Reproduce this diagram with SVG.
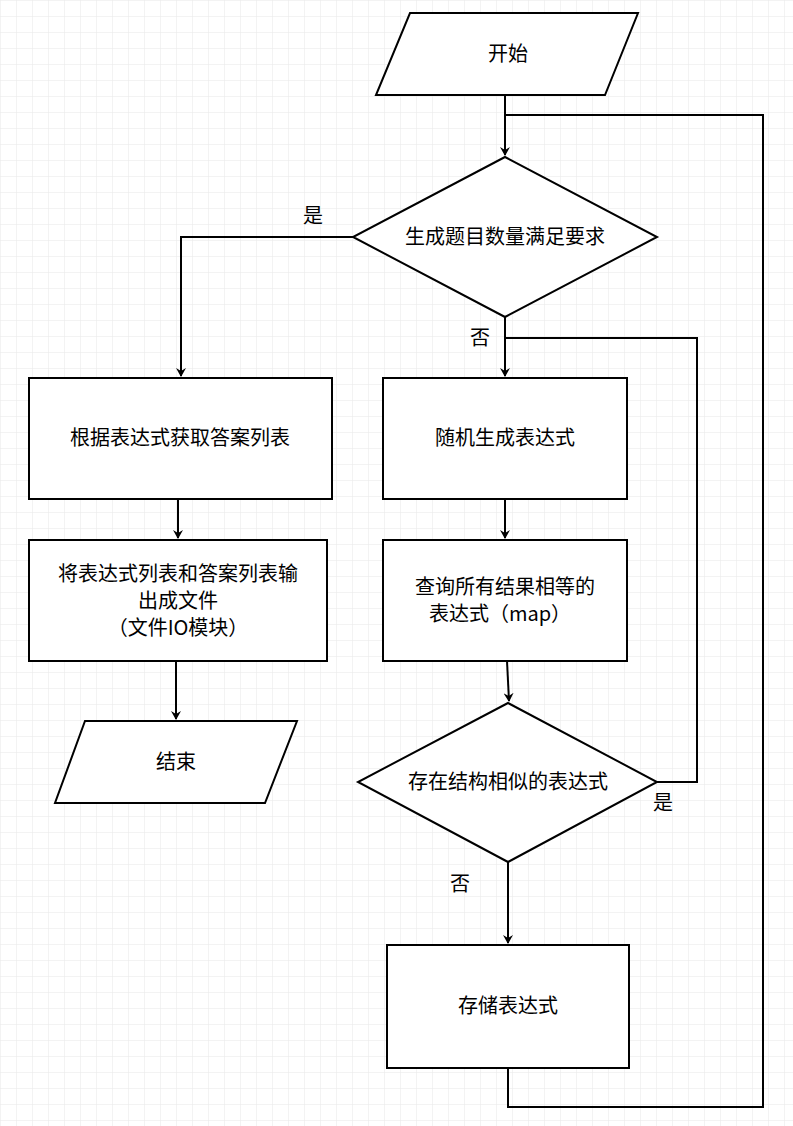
<svg xmlns="http://www.w3.org/2000/svg" width="793" height="1126" viewBox="0 0 793 1126">
<defs>
<pattern id="g" width="16" height="16" patternUnits="userSpaceOnUse"><path d="M16 0H0V16" fill="none" stroke="#e8e8e8" stroke-width="1"/></pattern>
<marker id="a" markerWidth="10" markerHeight="10" refX="8" refY="5" orient="auto" markerUnits="userSpaceOnUse"><path d="M0,0 L9,5 L0,10 L3,5 Z" fill="#000"/></marker>
<style>
.s{fill:#fff;stroke:#000;stroke-width:2}
.c{fill:none;stroke:#000;stroke-width:2}
text{font-family:"Noto Sans CJK SC","Liberation Sans",sans-serif;font-size:20px;text-anchor:middle;fill:#000}
</style>
</defs>
<rect width="793" height="1126" fill="#fff"/>
<rect width="793" height="1126" fill="url(#g)"/>
<g id="connectors">
<path class="c" d="M505,95 V155" marker-end="url(#a)"/>
<path class="c" d="M508,1068 V1107 H763 V115 H505"/>
<path class="c" d="M353,237 H181 V376" marker-end="url(#a)"/>
<path class="c" d="M505,317 V376" marker-end="url(#a)"/>
<path class="c" d="M657,782 H697 V338 H505"/>
<path class="c" d="M505,499 V538" marker-end="url(#a)"/>
<path class="c" d="M507,661 L509,701" marker-end="url(#a)"/>
<path class="c" d="M508,862 V943" marker-end="url(#a)"/>
<path class="c" d="M178,499 V538" marker-end="url(#a)"/>
<path class="c" d="M176,661 V719" marker-end="url(#a)"/>
<text x="313" y="223">是</text>
<text x="480" y="345">否</text>
<text x="663" y="810">是</text>
<text x="460" y="891">否</text>
</g>
<g id="start"><path class="s" d="M410,13 H638 L605,95 H376 Z"/><text x="508" y="61">开始</text></g>
<g id="d1"><path class="s" d="M505,157 L657,237 L505,317 L353,237 Z"/><text x="505" y="244">生成题目数量满足要求</text></g>
<g id="boxA"><rect class="s" x="29" y="378" width="303" height="121"/><text x="180" y="445">根据表达式获取答案列表</text></g>
<g id="boxB"><rect class="s" x="383" y="378" width="244" height="121"/><text x="505" y="445">随机生成表达式</text></g>
<g id="boxC"><rect class="s" x="383" y="540" width="244" height="121"/><text x="505" y="594">查询所有结果相等的</text><text x="500" y="621">表达式（map）</text></g>
<g id="d2"><path class="s" d="M508,703 L657,782 L508,862 L358,782 Z"/><text x="508" y="789">存在结构相似的表达式</text></g>
<g id="boxD"><rect class="s" x="387" y="945" width="242" height="123"/><text x="508" y="1013">存储表达式</text></g>
<g id="boxE"><rect class="s" x="29" y="540" width="298" height="121"/><text x="178" y="581">将表达式列表和答案列表输</text><text x="178" y="608">出成文件</text><text x="178" y="635">（文件IO模块）</text></g>
<g id="end"><path class="s" d="M85,721 H297 L265,803 H55 Z"/><text x="176" y="769">结束</text></g>
</svg>
